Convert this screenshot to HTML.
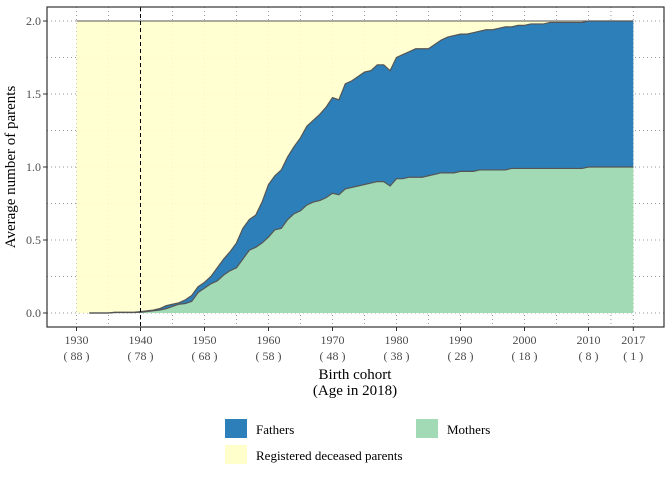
<!DOCTYPE html>
<html><head><meta charset="utf-8"><style>
body{margin:0;background:#fff}
svg text{font-family:"Liberation Serif",serif}
</style></head><body>
<svg id="chart" width="672" height="480">
<g id="grid"></g>
<g id="areas"></g>
<g id="axes"></g>
<text x="15" y="167" transform="rotate(-90 15 167)" text-anchor="middle" font-size="15" fill="#000">Average number of parents</text>
<text x="355" y="379" text-anchor="middle" font-size="15">Birth cohort</text>
<text x="355" y="395" text-anchor="middle" font-size="15">(Age in 2018)</text>
<g>
<rect x="225" y="419" width="22" height="19" fill="#2c7fb8"/>
<text x="256" y="434" font-size="13">Fathers</text>
<rect x="416" y="419" width="22" height="19" fill="#a1dab4"/>
<text x="447" y="434" font-size="13">Mothers</text>
<rect x="225" y="445" width="22" height="19" fill="#ffffcc"/>
<text x="256" y="460" font-size="13">Registered deceased parents</text>
</g>
</svg>
<script>
const years=[];for(let y=1932;y<=2017;y++)years.push(y);
const mothers=[0,0,0,0,.003,.003,.003,.003,.005,.01,.015,.02,.03,.045,.06,.065,.08,.14,.17,.2,.22,.26,.29,.31,.37,.43,.45,.48,.52,.57,.58,.64,.68,.70,.74,.76,.77,.79,.82,.81,.85,.86,.87,.88,.89,.90,.90,.87,.92,.92,.93,.93,.93,.94,.95,.96,.96,.96,.97,.97,.97,.98,.98,.98,.98,.98,.99,.99,.99,.99,.99,.99,.99,.99,.99,.99,.99,.99,1,1,1,1,1,1,1,1];
const totals=[0,0,0,0,.005,.005,.005,.005,.01,.015,.02,.03,.05,.06,.07,.09,.12,.18,.21,.25,.31,.37,.42,.48,.58,.64,.67,.76,.88,.94,.98,1.07,1.14,1.2,1.28,1.32,1.36,1.41,1.475,1.46,1.57,1.59,1.62,1.65,1.66,1.7,1.7,1.66,1.75,1.77,1.79,1.81,1.81,1.81,1.84,1.87,1.89,1.9,1.91,1.91,1.92,1.93,1.94,1.94,1.95,1.96,1.96,1.97,1.97,1.98,1.98,1.98,1.99,1.99,1.99,1.99,1.99,1.99,2,2,2,2,2,2,2,2];
const deceasedRange=[1930,2017];const deceasedValue=2;
const xTicks=[1930,1940,1950,1960,1970,1980,1990,2000,2010,2017];
const xTickAges=["( 88 )","( 78 )","( 68 )","( 58 )","( 48 )","( 38 )","( 28 )","( 18 )","( 8 )","( 1 )"];
const xMinor=[1935,1945,1955,1965,1975,1985,1995,2005,2013.5];
const yTicks=[0,0.5,1,1.5,2];
const yTickLabels=["0.0","0.5","1.0","1.5","2.0"];
const yMinor=[0.25,0.75,1.25,1.75];
const refYear=1940;
const X=v=>76.5+(v-1930)*6.4, Y=v=>313-v*146;
const NS="http://www.w3.org/2000/svg";
function mk(p,t,a){const e=document.createElementNS(NS,t);for(const k in a)e.setAttribute(k,a[k]);p.appendChild(e);return e;}
const g=document.getElementById('grid'),ar=document.getElementById('areas'),ax=document.getElementById('axes');
const L=47,R=664,T=7,B=327;
yTicks.concat(yMinor).forEach(v=>{const l=mk(g,'line',{x1:L,x2:R,y1:Y(v),y2:Y(v),stroke:'#999','stroke-width':1,'stroke-dasharray':'1,3'});

});
xTicks.concat(xMinor).forEach(v=>{const l=mk(g,'line',{x1:X(v),x2:X(v),y1:T,y2:B,stroke:'#999','stroke-width':1,'stroke-dasharray':'1,3'});

});
// deceased area
const dec=mk(ar,'rect',{x:X(deceasedRange[0]),y:Y(deceasedValue),width:X(deceasedRange[1])-X(deceasedRange[0]),height:Y(0)-Y(deceasedValue),fill:'#ffffcc','fill-opacity':0.9});


const dl=mk(ar,'line',{x1:X(deceasedRange[0]),x2:X(deceasedRange[1]),y1:Y(deceasedValue),y2:Y(deceasedValue),stroke:'#555','stroke-width':1});


const topPts=years.map((y,i)=>X(y)+','+Y(totals[i]));
const momPts=years.map((y,i)=>X(y)+','+Y(mothers[i]));
const fa=mk(ar,'polygon',{points:topPts.concat(momPts.slice().reverse()).join(' '),fill:'#2c7fb8'});


const ma=mk(ar,'polygon',{points:momPts.concat([X(years[years.length-1])+','+Y(0),X(years[0])+','+Y(0)]).join(' '),fill:'#a1dab4'});


const tl=mk(ar,'polyline',{points:topPts.join(' '),fill:'none',stroke:'#555','stroke-width':1.2});


const ml=mk(ar,'polyline',{points:momPts.join(' '),fill:'none',stroke:'#555','stroke-width':1.2});


const rl=mk(ar,'line',{x1:X(refYear),x2:X(refYear),y1:T,y2:B,stroke:'#000','stroke-width':1,'stroke-dasharray':'4,3'});


const bd=mk(ax,'rect',{x:L,y:T,width:R-L,height:B-T,fill:'none',stroke:'#333','stroke-width':1.2});


yTicks.forEach((v,i)=>{mk(ax,'line',{x1:L-4,x2:L,y1:Y(v),y2:Y(v),stroke:'#333'});
const t=mk(ax,'text',{x:L-6,y:Y(v)+4,'text-anchor':'end','font-size':12,fill:'#4d4d4d'});t.textContent=yTickLabels[i];

});
xTicks.forEach((v,i)=>{mk(ax,'line',{x1:X(v),x2:X(v),y1:B,y2:B+4,stroke:'#333'});
const t=mk(ax,'text',{x:X(v),y:B+17,'text-anchor':'middle','font-size':12,fill:'#4d4d4d'});t.textContent=v;


const a=mk(ax,'text',{x:X(v),y:B+33,'text-anchor':'middle','font-size':12,fill:'#4d4d4d'});a.textContent=xTickAges[i];

});
</script>
</body></html>
